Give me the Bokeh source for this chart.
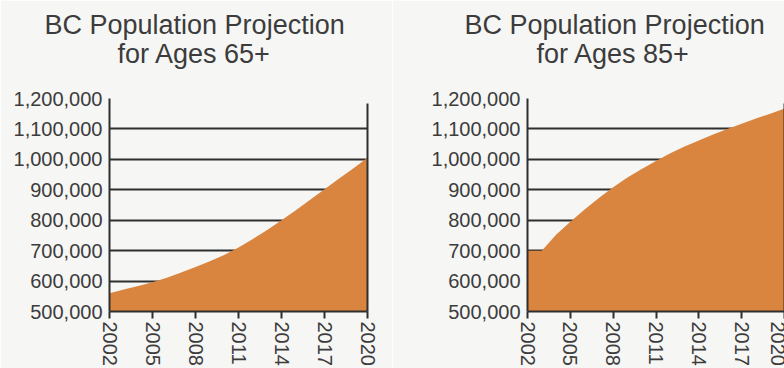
from bokeh.plotting import figure
from bokeh.models import Range1d, FixedTicker, NumeralTickFormatter, LinearAxis, Title, ColumnDataSource
from bokeh.layouts import row
from bokeh.embed import file_html
from bokeh.resources import INLINE

# ---- data ----
years = [2002, 2003, 2004, 2005, 2006, 2007, 2008, 2009, 2010, 2011,
         2012, 2013, 2014, 2015, 2016, 2017, 2018, 2019, 2020]
pop_65 = [560000, 572000, 584000, 596000, 611000, 628000, 646000, 665000, 686000, 710000,
          738000, 768000, 800000, 833000, 867000, 902000, 936000, 970000, 1005000]
pop_85 = [700000, 700000, 752000, 795000, 835000, 873000, 908000, 940000, 968000, 995000,
          1020000, 1042000, 1062000, 1082000, 1100000, 1117000, 1134000, 1150000, 1167000]
x_ticks = [2002, 2005, 2008, 2011, 2014, 2017, 2020]
y_ticks = [500000, 600000, 700000, 800000, 900000, 1000000, 1100000, 1200000]
grid_ticks = [600000, 700000, 800000, 900000, 1000000, 1100000]
title_65 = ["BC Population Projection", "for Ages 65+"]
title_85 = ["BC Population Projection", "for Ages 85+"]

# ---- styles ----
BG = "#f6f6f5"
ORANGE = "#d9853f"
INK = "#2f2f2f"
TEXT = "#3c3c3c"
FONT = "Liberation Sans"
AXIS_TOP = 1185000


def make_panel(values, title_lines, width, border_left, border_right, offsets):
    p = figure(width=width, height=368,
               x_range=Range1d(years[0], years[-1]),
               y_range=Range1d(y_ticks[0], y_ticks[-1]),
               output_backend="svg", toolbar_location=None,
               min_border_left=border_left, min_border_right=border_right,
               min_border_top=98, min_border_bottom=56,
               background_fill_color=BG, border_fill_color=BG,
               outline_line_color=None)

    src = ColumnDataSource(dict(year=years, pop=values))
    p.varea(x="year", y1=y_ticks[0], y2="pop", source=src, fill_color=ORANGE, fill_alpha=1.0)

    # grid
    p.xgrid.visible = False
    p.ygrid.ticker = FixedTicker(ticks=grid_ticks)
    p.ygrid.grid_line_color = INK
    p.ygrid.grid_line_width = 2

    # y axis
    ya = p.yaxis[0]
    ya.ticker = FixedTicker(ticks=y_ticks)
    ya.formatter = NumeralTickFormatter(format="0,0")
    ya.major_tick_out = 0
    ya.major_tick_in = 0
    ya.minor_tick_out = 0
    ya.minor_tick_in = 0
    ya.axis_line_color = INK
    ya.axis_line_width = 2
    ya.major_label_standoff = 7
    ya.major_label_text_font = FONT
    ya.major_label_text_font_size = "20px"
    ya.major_label_text_color = TEXT

    # x axis
    xa = p.xaxis[0]
    xa.ticker = FixedTicker(ticks=x_ticks)
    xa.major_label_orientation = "vertical"
    xa.major_tick_out = 7
    xa.major_tick_in = 0
    xa.minor_tick_out = 0
    xa.minor_tick_in = 0
    xa.major_tick_line_color = INK
    xa.major_tick_line_width = 2
    xa.axis_line_color = INK
    xa.axis_line_width = 2
    xa.major_label_standoff = 3
    xa.major_label_text_font = FONT
    xa.major_label_text_font_size = "20px"
    xa.major_label_text_color = TEXT

    # right border line
    ra = LinearAxis(ticker=FixedTicker(ticks=[]), bounds=(y_ticks[0], AXIS_TOP),
                    major_tick_out=0, major_tick_in=0, minor_tick_out=0, minor_tick_in=0,
                    major_label_standoff=0, major_label_text_font_size="0px",
                    axis_line_color=INK, axis_line_width=2)
    p.add_layout(ra, "right")

    # two-line title (inner line first)
    t2 = Title(text=title_lines[1], align="left", offset=offsets[1], standoff=60,
               text_font=FONT, text_font_size="27px", text_font_style="normal",
               text_color=TEXT)
    t1 = Title(text=title_lines[0], align="left", offset=offsets[0], standoff=-66,
               text_font=FONT, text_font_size="27px", text_font_style="normal",
               text_color=TEXT)
    p.add_layout(t2, "above")
    p.add_layout(t1, "above")
    return p


p1 = make_panel(pop_65, title_65, 392, 109, 25, (-65, 8))
p2 = make_panel(pop_85, title_85, 392, 135, 0, (-63, 9))

layout = row(p1, p2, spacing=0)
open("out.html", "w").write(file_html(layout, INLINE).replace("<body>", "<body style=\"margin:0\">"))
